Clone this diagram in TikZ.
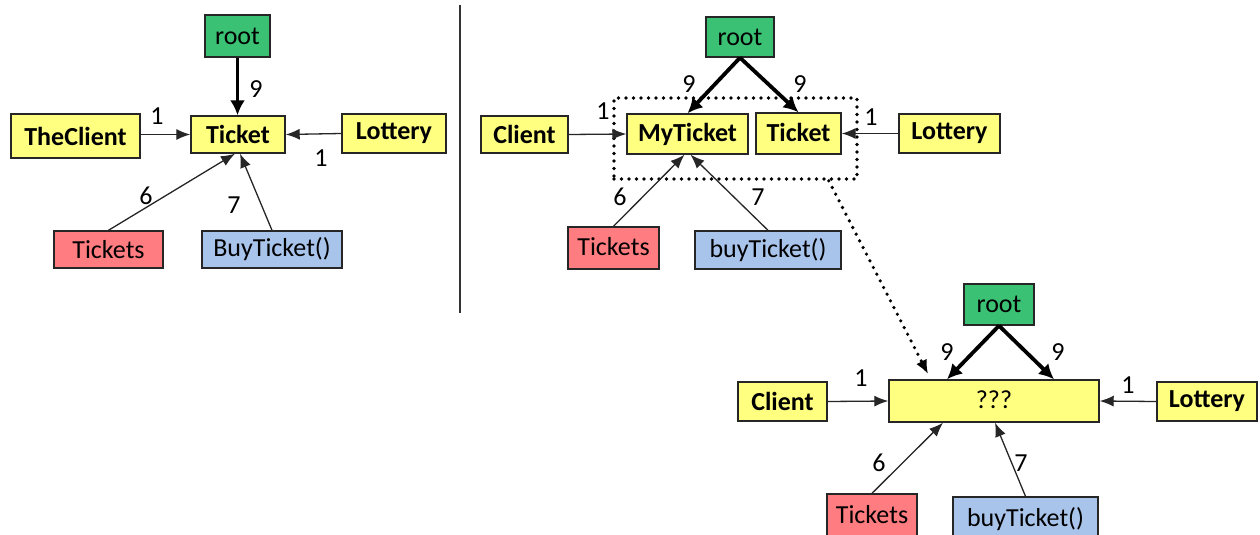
\documentclass[tikz,border=0pt]{standalone}
\usepackage{fontspec}
\setmainfont{Carlito}
\usetikzlibrary{arrows.meta,calc}
\definecolor{boxyellow}{HTML}{FFFF80}
\definecolor{boxgreen}{HTML}{3AC173}
\definecolor{boxred}{HTML}{FF7C80}
\definecolor{boxblue}{HTML}{A9C4EB}
\begin{document}
\begin{tikzpicture}[x=1pt,y=-1pt,
  box/.style={draw=black!85, line width=1.4pt, inner sep=0pt, font=\fontsize{26}{30}\selectfont},
  ybox/.style={box, fill=boxyellow, font=\fontsize{26}{30}\selectfont\bfseries},
  yplain/.style={box, fill=boxyellow},
  gbox/.style={box, fill=boxgreen},
  rbox/.style={box, fill=boxred},
  bbox/.style={box, fill=boxblue},
  lbl/.style={inner sep=0pt, font=\fontsize{26}{30}\selectfont},
  link/.style={draw=black!85, line width=1.3pt, -{Latex[length=14pt,width=11pt]}},
  heavy/.style={draw=black, line width=3.8pt, -{Latex[length=15pt,width=15pt]}},
  dots/.style={line width=3.6pt, line cap=round, dash pattern=on 0pt off 7.5pt},
]
\fill[white] (0,0) rectangle (1260,535);
\useasboundingbox (0,0) rectangle (1260,535);
\clip (0,0) rectangle (1260,535);

% ---------- first design ----------
\node[gbox, minimum width=65pt, minimum height=42pt] (rootA) at (237.5,36) {root};
\node[ybox, minimum width=94pt, minimum height=37pt] (ticketA) at (238,134.5) {Ticket};
\node[ybox, minimum width=129pt, minimum height=44pt] (clientA) at (75.5,136) {TheClient};
\node[ybox, minimum width=104pt, minimum height=39pt] (lotteryA) at (394,133.5) {Lottery};
\node[rbox, minimum width=109pt, minimum height=37pt] (ticketsA) at (108.5,249.5) {Tickets};
\node[bbox, minimum width=140pt, minimum height=37pt] (buyA) at (272,249.5) {BuyTicket()};

\draw[heavy] (rootA.south) -- (rootA.south |- ticketA.north);
\draw[link] (clientA.east |- ticketA.west) -- (ticketA.west);
\draw[link] (lotteryA.west) -- (ticketA.east);
\draw[link] (ticketsA.north) -- ($(ticketA.south)+(-3,0)$);
\draw[link] (buyA.north) -- ($(ticketA.south)+(2,0)$);

\node[lbl] (nA9) at (256,89) {9};
\node[lbl] (nA1a) at (157,116) {1};
\node[lbl] (nA1b) at (321,158) {1};
\node[lbl] (nA6) at (146,196) {6};
\node[lbl] (nA7) at (234,205) {7};

% ---------- divider ----------
\coordinate (sepTop) at (460,5);
\coordinate (sepBot) at (460,313);
\draw[line width=1.6pt, black!80] (sepTop) -- (sepBot);

% ---------- second design ----------
\node[draw=black, dots, inner sep=0pt, minimum width=243pt, minimum height=81pt] (group) at (735.5,138.5) {};
\node[gbox, minimum width=68pt, minimum height=40pt] (rootB) at (740,37) {root};
\node[ybox, minimum width=121pt, minimum height=40pt] (myticket) at (687.5,134) {MyTicket};
\node[ybox, minimum width=85pt, minimum height=41pt] (ticketB) at (798.5,133.5) {\raisebox{2pt}{Ticket}};
\node[ybox, minimum width=87pt, minimum height=37pt] (clientB) at (524.5,134.5) {Client};
\node[ybox, minimum width=101pt, minimum height=39pt] (lotteryB) at (949.5,133.5) {Lottery};
\node[rbox, minimum width=91pt, minimum height=42pt] (ticketsB) at (613.5,248) {\raisebox{3pt}{Tickets}};
\node[bbox, minimum width=146pt, minimum height=38pt] (buyB) at (768,250) {buyTicket()};

\draw[heavy] (rootB.south) -- (myticket.north);
\draw[heavy] (rootB.south) -- (ticketB.north);
\draw[link] (clientB.east) -- (myticket.west);
\draw[link] (lotteryB.west) -- (ticketB.east);
\draw[link] (ticketsB.north) -- ($(myticket.south)+(-3,0)$);
\draw[link] (buyB.north) -- ($(myticket.south)+(3,0)$);

\node[lbl] (nB9a) at (689,84) {9};
\node[lbl] (nB9b) at (800,84) {9};
\node[lbl] (nB1a) at (603,111) {1};
\node[lbl] (nB1b) at (871,117) {1};
\node[lbl] (nB6) at (620,197) {6};
\node[lbl] (nB7) at (758,197) {7};

% ---------- open question ----------
\node[gbox, minimum width=70pt, minimum height=41pt] (rootC) at (999,304.5) {root};
\node[yplain, minimum width=210pt, minimum height=42pt] (merged) at (994,401) {\raisebox{3pt}{???}};
\node[ybox, minimum width=89pt, minimum height=39pt] (clientC) at (782.5,401.5) {Client};
\node[ybox, minimum width=100pt, minimum height=39pt] (lotteryC) at (1207,401.5) {Lottery};
\node[rbox, minimum width=90pt, minimum height=46pt] (ticketsC) at (872,517) {\raisebox{6pt}{Tickets}};
\node[bbox, minimum width=145pt, minimum height=46pt] (buyC) at (1025.5,520) {\raisebox{6pt}{buyTicket()}};

\coordinate (dotEnd) at (928,374);
\draw[dots, -{Latex[length=14pt,width=12pt]}] ($(group.south east)+(-30,0)$) -- (dotEnd);

\draw[heavy] (rootC.south) -- ($(merged.north)+(-47,0)$);
\draw[heavy] (rootC.south) -- ($(merged.north)+(60,0)$);
\draw[link] (clientC.east) -- (merged.west);
\draw[link] (lotteryC.west) -- (merged.east);
\draw[link] (ticketsC.north) -- ($(merged.south)+(-51,0)$);
\draw[link] (buyC.north) -- ($(merged.south)+(1,0)$);

\node[lbl] (nC9a) at (947,352) {9};
\node[lbl] (nC9b) at (1058,352) {9};
\node[lbl] (nC1a) at (861,378) {1};
\node[lbl] (nC1b) at (1128,385) {1};
\node[lbl] (nC6) at (879,463) {6};
\node[lbl] (nC7) at (1021,463) {7};
\end{tikzpicture}
\end{document}
